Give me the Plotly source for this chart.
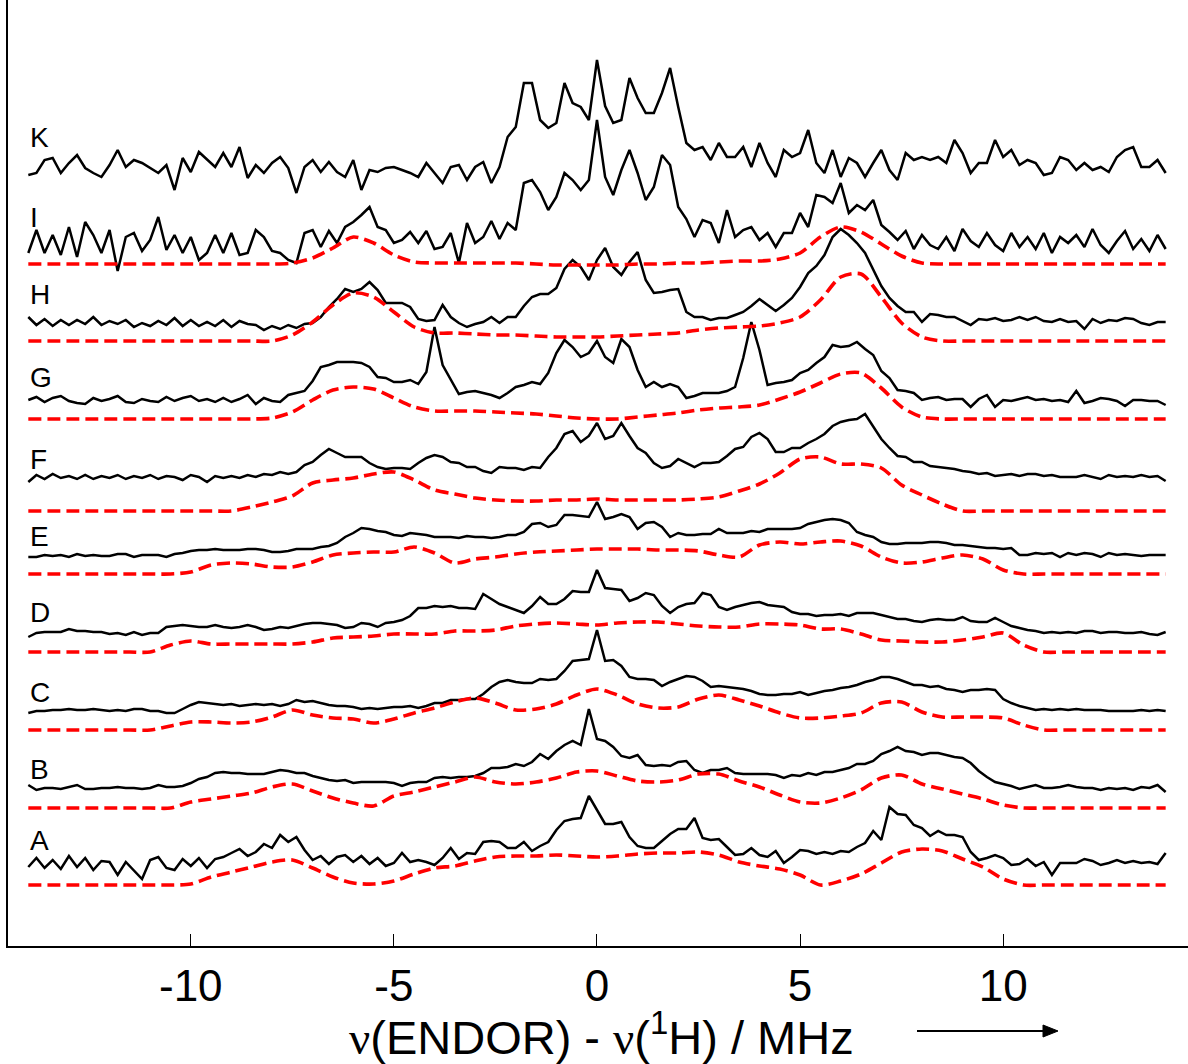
import numpy as np
import plotly.graph_objects as go

# Frequency axes: nu(ENDOR) - nu(1H) in MHz
FREQ_EXP = np.round(np.arange(-14.0, 14.0 + 1e-9, 0.2), 1)   # measured spectra
FREQ_SIM = np.round(np.arange(-14.0, 14.0 + 1e-9, 0.5), 1)   # simulations

# Measured ENDOR spectra (arbitrary intensity units)
SPEC_K = [-7, -5, 8, 10, -5, 5, 13, 0, -5, -9, 3, 18, 1, 8, 5, 0, -5, 3, -22, 10,
          -4, 16, 8, 1, 15, 1, 21, -10, 3, -5, 5, 11, 0, -25, 1, 8, -4, 6, -4, -9,
          8, -22, -2, -4, 0, 1, -2, -5,
          -9, 5, -5, -15, 1, 3, -12, 1, 6, -15, 1, 31, 41, 85, 85, 48, 40, 45, 85, 65,
          61, 48, 108, 62, 45, 48, 90, 70, 55, 55, 75, 100, 61, 25, 18, 21, 8, 25, 11, 11,
          21, 1, 25, 5, -9, 18, 11, 15,
          38, 5, -5, 18, -9, 10, 5, -9, 5, 18, -2, -12, 15, 8, 11, 8, 11, 5, 28, 15,
          -5, 5, 5, 28, 11, 18, 3, 8, 5, -7, -5, 11, 8, -2, 5, -2, 1, -4, 11, 18,
          21, 1, 1, 8, -5]
SPEC_I = [-8, 15, -8, 10, -10, 18, -12, 23, 10, -8, 15, -26, 8, 12, -6, 5, 28, -5, 10, -8,
          8, -15, -8, 10, -8, 12, -10, -8, 15, 8, -6, -8, -15, -18, 12, 15, -2, 14, 2, 18,
          23, 30, 38, 18, 15, 2, 5, 13,
          2, 14, -4, -2, 12, -18, 22, 2, 8, 24, 6, 22, 15, 62, 65, 53, 35, 48, 72, 65,
          55, 65, 125, 68, 50, 75, 95, 72, 45, 58, 90, 80, 38, 26, 8, 25, 22, 2, 35, 8,
          15, 18, 5, 12, -2, 12, 12, 32,
          18, 50, 48, 42, 62, 32, 40, 35, 45, 20, 13,
          5, 14, -4, 10, 0, -4, 8, -6, 16, 4, -2, 12, 0,
          -6, 12, -2, 8, -4, 12, -8, 8, 2, 10, -2, 16, 0, -8, 4, 14, -4, 6, -6, 10, -4]
SPEC_H = [5, -3, 3, -4, 2, -3, 2, -2, 5, -3, 1, -2, 2, -5, -1, -4, 1, -3, 4, -4,
          2, -4, 0, -4, 2, -5, 1, -2, -3, -8, -4, -7, -3, -6, -2, -1, 5, 15, 23, 33,
          30, 33, 40, 32, 19, 19, 19, 15,
          3, 1, 2, 17, 5, -1, -5, -2, 0, 5, -1, 5, 5, 16, 25, 28, 28, 34, 53, 62,
          55, 42, 62, 74, 55, 47, 60, 70, 42, 29, 30, 32, 33, 10, 5, 5, 2, 4, 4, 7,
          10, 16, 23, 17, 11, 17, 24, 35,
          49, 56, 67, 85, 93, 87, 79, 69, 52, 36, 24, 16, 10, 10, 0, 8, 7, 5, 5, 1,
          -3, 3, 2, 4, 1, 2, 5, 2, 5, 1, 0, 3, 0, 1, -7, 3, -1, 2, 1, 4,
          3, -1, -3, 0, 0]
SPEC_G = [0, 3, -2, 2, 4, -1, -3, -4, 2, -1, 1, 4, -2, -3, 1, -1, -2, 3, -1, 2,
          4, -1, 1, -2, 2, -2, 1, 5, -4, 2, -1, -2, 5, 7, 9, 19, 33, 35, 38, 38,
          38, 37, 33, 23, 22, 18, 18, 20,
          16, 28, 73, 35, 20, 6, 8, 9, 7, 5, 2, 7, 13, 15, 18, 16, 27, 47, 60, 53,
          43, 47, 59, 43, 37, 61, 53, 30, 13, 18, 13, 16, 13, 2, 4, 7, 7, 7, 9, 13,
          42, 78, 50, 15, 17, 18, 20, 27,
          30, 37, 43, 55, 53, 54, 58, 51, 45, 29, 22, 10, 9, 7, 0, 2, 3, 0, 1, 1,
          -7, 1, 5, -7, 0, -1, 1, 3, 0, 1, -1, 0, -2, 9, -3, -1, 2, 1, -1, -6,
          0, 0, -1, -1, -5]
SPEC_F = [-5, 2, -2, 3, -1, 1, -2, 2, -2, 1, -1, 2, -2, 1, -1, 2, -2, 1, 0, -3,
          2, 0, -5, 1, -1, 1, -1, 2, 0, 3, 2, 5, 3, 5, 12, 15, 22, 28, 24, 20,
          20, 20, 14, 10, 8, 9, 9, 8,
          14, 19, 22, 20, 15, 14, 10, 10, 6, 4, 10, 9, 9, 7, 10, 9, 20, 29, 43, 46,
          35, 41, 54, 38, 41, 54, 41, 29, 24, 14, 9, 11, 18, 14, 10, 14, 14, 15, 21, 28,
          30, 40, 44, 38, 25, 25, 29, 29,
          34, 38, 43, 51, 55, 57, 58, 63, 50, 38, 29, 21, 20, 15, 15, 11, 10, 9, 8, 6,
          5, 3, 4, 1, 2, 3, 1, 3, 3, 1, 2, 0, 0, 0, 2, 0, -2, 2, 0, 1,
          0, 2, 0, 1, -4]
SPEC_E = [-2, -2, 0, -1, 0, -2, 1, -1, 0, -1, -1, 1, 1, -2, 0, 0, 0, -2, 1, 2,
          4, 5, 5, 6, 5, 5, 5, 6, 6, 5, 3, 3, 4, 6, 6, 6, 8, 9, 12, 18,
          22, 27, 26, 24, 23, 20, 19, 22,
          21, 20, 18, 18, 18, 17, 19, 18, 18, 17, 18, 20, 20, 23, 31, 32, 28, 30, 40, 40,
          39, 38, 53, 36, 38, 41, 38, 26, 32, 33, 28, 18, 22, 20, 20, 21, 21, 26, 22, 22,
          22, 24, 23, 26, 26, 26, 26, 27,
          31, 33, 35, 36, 35, 32, 23, 20, 18, 13, 11, 11, 12, 12, 12, 13, 13, 12, 10, 10,
          9, 8, 7, 7, 6, 7, 0, 0, 2, 1, 2, -2, 2, 0, 2, 1, -2, 2, 0, 1,
          0, -1, 0, 0, 0]
SPEC_D = [-4, 0, 1, 1, 1, 4, 2, 2, 1, 1, -1, 0, -2, 1, -2, 0, 0, 6, 7, 8,
          7, 6, 6, 8, 6, 5, 6, 8, 6, 3, 4, 6, 5, 7, 9, 10, 10, 9, 8, 5,
          6, 10, 9, 6, 10, 11, 13, 17,
          25, 25, 27, 26, 27, 25, 25, 24, 39, 34, 29, 26, 23, 20, 27, 36, 29, 29, 34, 42,
          41, 41, 63, 45, 44, 43, 32, 35, 40, 38, 27, 20, 26, 29, 30, 40, 38, 26, 23, 26,
          28, 30, 31, 28, 27, 26, 21, 19,
          19, 17, 18, 18, 19, 17, 20, 20, 20, 18, 16, 14, 14, 12, 11, 13, 14, 13, 13, 16,
          12, 11, 11, 15, 11, 7, 5, 3, 2, 0, 1, 0, 1, 0, 2, 2, 0, 1, 1, 0,
          0, 1, -1, -2, 1]
SPEC_C = [-1, 1, 1, 2, 2, 3, 2, 2, 3, 2, 1, 2, 1, 3, 3, 1, 1, -1, -1, 3,
          7, 10, 9, 8, 7, 8, 6, 7, 8, 7, 8, 6, 8, 12, 10, 11, 9, 7, 6, 6,
          5, 3, 4, 3, 4, 5, 5, 6,
          4, 6, 9, 9, 12, 12, 13, 13, 18, 25, 30, 32, 30, 29, 29, 33, 32, 33, 41, 51,
          52, 53, 82, 51, 52, 46, 35, 33, 33, 32, 26, 30, 33, 36, 35, 31, 25, 26, 25, 24,
          23, 21, 18, 17, 17, 18, 18, 20,
          17, 19, 21, 22, 24, 25, 27, 30, 32, 35, 35, 33, 30, 27, 27, 25, 26, 23, 22, 20,
          22, 22, 23, 22, 13, 9, 6, 4, 2, 3, 2, 3, 2, 3, 2, 2, 2, 1, 1, 1,
          1, 2, 1, 2, 1]
SPEC_B = [4, -1, 1, 1, 0, 2, 4, 0, 0, 1, 1, 2, 1, 1, 0, 1, 4, 2, 2, 3,
          6, 10, 12, 16, 17, 16, 16, 15, 15, 15, 17, 19, 18, 16, 16, 13, 11, 9, 8, 9,
          6, 7, 7, 7, 7, 6, 3, 6,
          7, 7, 11, 12, 11, 12, 12, 13, 16, 21, 21, 22, 25, 23, 27, 35, 30, 38, 44, 48,
          44, 80, 50, 48, 42, 33, 31, 34, 24, 23, 24, 23, 27, 28, 19, 16, 19, 19, 21, 16,
          15, 15, 15, 15, 14, 11, 14, 13,
          16, 14, 17, 17, 19, 21, 25, 25, 28, 35, 38, 42, 38, 37, 34, 36, 36, 34, 32, 31,
          26, 18, 12, 7, 5, 3, 0, 2, 4, 1, 1, 2, 4, 2, 1, 1, -1, 1, 0, 1,
          -1, 2, 1, 4, -3]
SPEC_A = [-1, 8, -2, 6, -3, 10, -1, 8, -4, 5, 4, -9, 4, -4, -13, 6, 9, -2, -4, 7,
          0, 8, -2, 7, 9, 13, 17, 10, 14, 22, 18, 31, 24, 29, 16, 6, 10, 2, 9, 11,
          4, 10, 2, 8, 0, 3, 13, 4,
          6, 4, 1, 8, 18, 7, 13, 12, 24, 25, 24, 18, 18, 24, 15, 20, 24, 36, 45, 47,
          48, 70, 56, 42, 42, 44, 29, 20, 18, 18, 25, 32, 37, 37, 48, 28, 26, 27, 19, 11,
          12, 18, 11, 9, 15, 3, 9, 16,
          15, 12, 14, 12, 15, 14, 19, 23, 35, 26, 59, 52, 51, 41, 38, 30, 35, 31, 31, 29,
          14, 6, 8, 11, 8, 1, 2, 7, 0, 4, -9, 3, 3, 3, 7, 5, 1, 3, 6, 3,
          5, 3, 4, 2, 13]

# Simulated spectra (same intensity units)
SIM_I = [0] * 13 + [1, 6, 16, 27, 21, 9, 2, 1, 1, 1, 1, 1, 0, -1, -1, -1, -1, 0, 0, 1,
                    1, 2, 3, 3, 5, 11, 27, 37, 32, 20, 8, 1] + [0] * 12
SIM_H = [0] * 13 + [6, 19, 36, 48, 44, 29, 14, 8, 8, 7, 6, 6, 5, 4, 4, 4, 5, 6, 7, 8,
                    11, 13, 14, 15, 18, 24, 41, 64, 67, 44, 18, 4] + [0] * 12
SIM_G = [0] * 12 + [1] + [7, 19, 29, 32, 30, 21, 12, 8, 8, 8, 7, 6, 5, 3, 1, 0, 0, 2, 4, 6,
                          9, 11, 12, 14, 20, 27, 36, 45, 46, 31, 12, 2] + [0] * 12
SIM_F = [0] * 11 + [4, 9, 15, 28, 31, 33, 37, 39, 31, 21, 17, 13, 11, 10, 10, 11, 11, 12, 11, 11,
                    11, 11, 12, 14, 20, 27, 38, 52, 54, 47, 47, 43, 26, 16, 7, 0] + [0] * 10
SIM_E = [0] * 8 + [2, 9, 11, 10, 7, 7, 12, 19, 21, 22, 22, 27, 21, 11, 15, 17, 20, 22, 23, 24,
                   25, 25, 25, 24, 24, 23, 19, 17, 29, 32, 30, 32, 33, 28, 17, 11, 12, 16, 19, 15,
                   4] + [0] * 8
SIM_D = [0] * 7 + [7, 11, 8, 8, 8, 8, 8, 10, 14, 15, 16, 18, 18, 18, 21, 21, 22, 26, 28, 29,
                   28, 27, 29, 30, 30, 28, 26, 25, 25, 28, 28, 27, 23, 23, 18, 12, 11, 10, 10, 12,
                   15, 19, 7, 0] + [0] * 6
SIM_C = [0] * 7 + [4, 8, 8, 7, 8, 13, 20, 15, 12, 11, 7, 11, 17, 22, 28, 32, 27, 20, 21, 26,
                   35, 41, 35, 26, 22, 23, 31, 35, 30, 24, 17, 12, 12, 14, 17, 27, 28, 18, 13, 13,
                   13, 12, 5, 0] + [0] * 6
SIM_B = [0] * 7 + [0, 6, 9, 12, 15, 21, 24, 17, 10, 5, 2, 12, 16, 21, 26, 31, 26, 24, 26, 30,
                   36, 37, 32, 27, 26, 28, 34, 34, 27, 21, 13, 6, 5, 10, 18, 30, 33, 24, 19, 14,
                   9, 3, 0, 0] + [0] * 6
SIM_A = [0] * 8 + [1, 8, 13, 18, 23, 25, 17, 8, 2, 1, 4, 11, 17, 19, 24, 28, 29, 29, 30, 29,
                   28, 29, 31, 32, 32, 33, 30, 23, 19, 16, 10, 0, 4, 11, 22, 33, 36, 34, 26, 18,
                   6, 0] + [0] * 7

SAMPLES = ["K", "I", "H", "G", "F", "E", "D", "C", "B", "A"]
MEASURED = {"K": SPEC_K, "I": SPEC_I, "H": SPEC_H, "G": SPEC_G, "F": SPEC_F,
            "E": SPEC_E, "D": SPEC_D, "C": SPEC_C, "B": SPEC_B, "A": SPEC_A}
SIMULATED = {"I": SIM_I, "H": SIM_H, "G": SIM_G, "F": SIM_F, "E": SIM_E,
             "D": SIM_D, "C": SIM_C, "B": SIM_B, "A": SIM_A}

# Vertical stacking of the traces (layout only)
EXP_SHIFT = {"K": 778, "I": 701, "H": 624, "G": 546, "F": 469,
             "E": 391, "D": 313, "C": 234, "B": 157, "A": 80}
SIM_SHIFT = {"I": 682, "H": 605, "G": 527, "F": 435, "E": 372,
             "D": 294, "C": 216, "B": 138, "A": 61}
LABEL_Y = {"K": 809, "I": 729, "H": 652, "G": 569, "F": 487,
           "E": 410, "D": 334, "C": 254, "B": 177, "A": 106}

for name in SAMPLES:
    assert len(MEASURED[name]) == len(FREQ_EXP), name
for name, vals in SIMULATED.items():
    assert len(vals) == len(FREQ_SIM), name

fig = go.Figure()

for name in SAMPLES:
    fig.add_trace(go.Scatter(
        x=FREQ_EXP, y=np.array(MEASURED[name]) + EXP_SHIFT[name],
        mode="lines", line=dict(color="black", width=2.5),
        name=f"{name} exp", showlegend=False, hoverinfo="skip"))

for name in SAMPLES[1:]:
    fig.add_trace(go.Scatter(
        x=FREQ_SIM, y=np.array(SIMULATED[name]) + SIM_SHIFT[name],
        mode="lines", line=dict(color="#ff0000", width=3.6, dash="13px,6px",
                                shape="spline", smoothing=0.8),
        name=f"{name} sim", showlegend=False, hoverinfo="skip"))

SANS = "Liberation Sans, Arial, sans-serif"

for name in SAMPLES:
    fig.add_annotation(x=-14.02, y=LABEL_Y[name], xref="x", yref="y",
                       text=name, showarrow=False, xanchor="left", yanchor="middle",
                       font=dict(family=SANS, size=28, color="black"))

NU = "<span style='font-family:Liberation Serif, Times New Roman, serif'>\u03bd</span>"
fig.add_annotation(x=0.12, y=-0.093, xref="x", yref="paper",
                   text=f"{NU}(ENDOR) - {NU}(<sup>1</sup>H) / MHz",
                   showarrow=False, xanchor="center", yanchor="middle",
                   font=dict(family=SANS, size=47, color="black"))

# direction arrow next to the axis title (paper coordinates)
PLOT_L, PLOT_W, PLOT_H = 8, 1180, 946


def px_to_paper(px, py):
    return (px - PLOT_L) / PLOT_W, (PLOT_H - py) / PLOT_H


ax0, ay0 = px_to_paper(917, 1031)
ax1, _ = px_to_paper(1046, 1031)
tipx, tipy = px_to_paper(1058, 1031)
basex, _ = px_to_paper(1043, 1031)
half = 6 / PLOT_H
fig.add_shape(type="line", xref="paper", yref="paper", x0=ax0, y0=ay0, x1=ax1, y1=ay0,
              line=dict(color="black", width=2.2))
fig.add_shape(type="path", xref="paper", yref="paper",
              path=f"M {tipx},{tipy} L {basex},{tipy + half} L {basex},{tipy - half} Z",
              fillcolor="black", line=dict(color="black", width=1))

fig.update_xaxes(range=[-14.50, 14.55], showline=True, linecolor="black",
                 linewidth=2, ticks="inside", ticklen=12, tickwidth=1,
                 tickcolor="black", tickvals=[-10, -5, 0, 5, 10],
                 ticktext=["-10", "-5", "0", "5", "10"],
                 tickfont=dict(family=SANS, size=44, color="black"),
                 showgrid=False, zeroline=False, mirror=False)
fig.update_yaxes(range=[0, 946], showline=True, linecolor="black", linewidth=2,
                 showticklabels=False, ticks="", showgrid=False, zeroline=False)

fig.update_layout(width=1188, height=1064,
                  margin=dict(l=8, r=0, t=0, b=118, pad=0),
                  paper_bgcolor="white", plot_bgcolor="white",
                  showlegend=False)

fig.write_html("out.html")
